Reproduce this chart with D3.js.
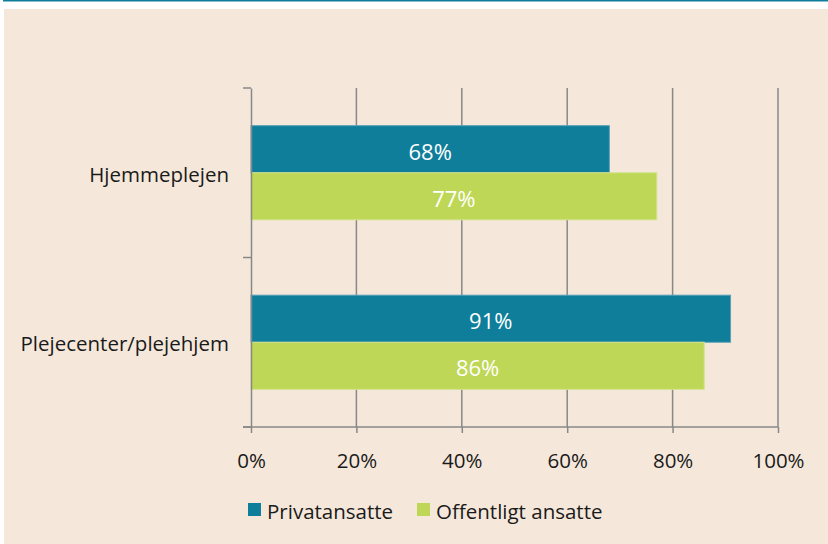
<!DOCTYPE html>
<html>
<head>
<meta charset="utf-8">
<script src="https://cdn.jsdelivr.net/npm/d3@7"></script>
<style>
	body { margin: 0; background: #ffffff; }
	text { font-family: "Open Sans", "Noto Sans", sans-serif; }
</style>
</head>
<body>
<div id="chart"></div>
<script>
// Data
var categories = ["Hjemmeplejen", "Plejecenter/plejehjem"];
var seriesNames = ["Privatansatte", "Offentligt ansatte"];
var privatValues = [68, 91];
var offentligValues = [77, 86];
var tickValues = [0, 20, 40, 60, 80, 100];

var colors = ["#0f7e9b", "#bed756"];
var strokes = ["#5aa2b8", "#d3e48e"];

var W = 828, H = 544;
var margin = {left: 251, right: 50, top: 88, bottom: 117};
var fontSize = "20.5px";

var svg = d3.select("#chart")
	.append("svg")
		.attr("width", W)
		.attr("height", H);

// Top rule and panel
svg.append("rect")
	.attr("x", 3).attr("y", 0).attr("width", W - 3).attr("height", 1.5)
	.attr("fill", "#0f7e9b");
svg.append("rect")
	.attr("x", 4).attr("y", 9).attr("width", W - 4).attr("height", H - 9)
	.attr("fill", "#f5e8db");

// Scales
var x = d3.scaleLinear()
	.domain([0, 100])
	.range([margin.left, 778]);
var y = d3.scaleBand()
	.domain(categories)
	.range([margin.top, 427]);
var inner = d3.scaleBand()
	.domain(seriesNames)
	.range([0, y.bandwidth()])
	.paddingOuter(0.8)
	.paddingInner(0);

var axisColor = "#888888";

// Grid lines
svg.append("g")
	.selectAll("line")
	.data(tickValues.slice(1))
	.enter()
	.append("line")
		.attr("x1", function(d){ return x(d); })
		.attr("x2", function(d){ return x(d); })
		.attr("y1", margin.top)
		.attr("y2", 427)
		.attr("stroke", axisColor)
		.attr("stroke-width", 1.5);

// Bars
var rows = categories.map(function(c, i){
	return {cat: c, values: [privatValues[i], offentligValues[i]]};
});

var groups = svg.selectAll(".cat")
	.data(rows)
	.enter()
	.append("g")
		.attr("class", "cat")
		.attr("transform", function(d){ return "translate(0," + y(d.cat) + ")"; });

groups.selectAll("rect")
	.data(function(d){ return d.values.map(function(v, j){ return {name: seriesNames[j], v: v, j: j}; }); })
	.enter()
	.append("rect")
		.attr("x", x(0))
		.attr("y", function(d){ return inner(d.name); })
		.attr("width", function(d){ return x(d.v) - x(0); })
		.attr("height", inner.bandwidth())
		.attr("fill", function(d){ return colors[d.j]; })
		.attr("stroke", function(d){ return strokes[d.j]; })
		.attr("stroke-width", 1);

groups.selectAll(".val")
	.data(function(d){ return d.values.map(function(v, j){ return {name: seriesNames[j], v: v}; }); })
	.enter()
	.append("text")
		.attr("class", "val")
		.attr("x", function(d){ return (x(0) + x(d.v)) / 2; })
		.attr("y", function(d){ return inner(d.name) + inner.bandwidth() / 2; })
		.attr("dy", "0.47em")
		.attr("text-anchor", "middle")
		.attr("fill", "#ffffff")
		.attr("font-size", "22px")
		.text(function(d){ return d.v + "%"; });

// Axes
var xAxis = d3.axisBottom(x)
	.tickValues(tickValues)
	.tickSize(6)
	.tickPadding(20)
	.tickFormat(function(d){ return d + "%"; });
var gX = svg.append("g")
	.attr("transform", "translate(0,427)")
	.call(xAxis);
gX.select(".domain").attr("d", "M" + (x(0) - 8) + ",0H" + x(100));

var yAxis = d3.axisLeft(y).tickSize(0).tickPadding(22);
var gY = svg.append("g")
	.attr("transform", "translate(" + x(0) + ",0)")
	.call(yAxis);
gY.selectAll(".tick text").attr("dy", "0.45em");

// category separator ticks on the y axis
var bounds = [margin.top, y(categories[1]), 427];
gY.selectAll(".sep")
	.data(bounds)
	.enter()
	.append("line")
		.attr("class", "sep")
		.attr("x1", -8).attr("x2", 0)
		.attr("y1", function(d){ return d; })
		.attr("y2", function(d){ return d; })
		.attr("stroke", axisColor)
		.attr("stroke-width", 1.5);

svg.selectAll(".domain, .tick line")
	.attr("stroke", axisColor)
	.attr("stroke-width", 1.5);
svg.selectAll(".tick text")
	.attr("font-size", fontSize)
	.attr("fill", "#1a1a1a");

// Legend
var legend = svg.append("g")
	.attr("transform", "translate(248,503)");
var legX = [0, 169];
var items = legend.selectAll("g")
	.data(seriesNames)
	.enter()
	.append("g")
		.attr("transform", function(d, i){ return "translate(" + legX[i] + ",0)"; });
items.append("rect")
	.attr("width", 13).attr("height", 13)
	.attr("fill", function(d, i){ return colors[i]; });
items.append("text")
	.attr("x", 19)
	.attr("y", 6.5)
	.attr("dy", "0.47em")
	.attr("font-size", fontSize)
	.attr("fill", "#1a1a1a")
	.text(function(d){ return d; });
</script>
</body>
</html>
